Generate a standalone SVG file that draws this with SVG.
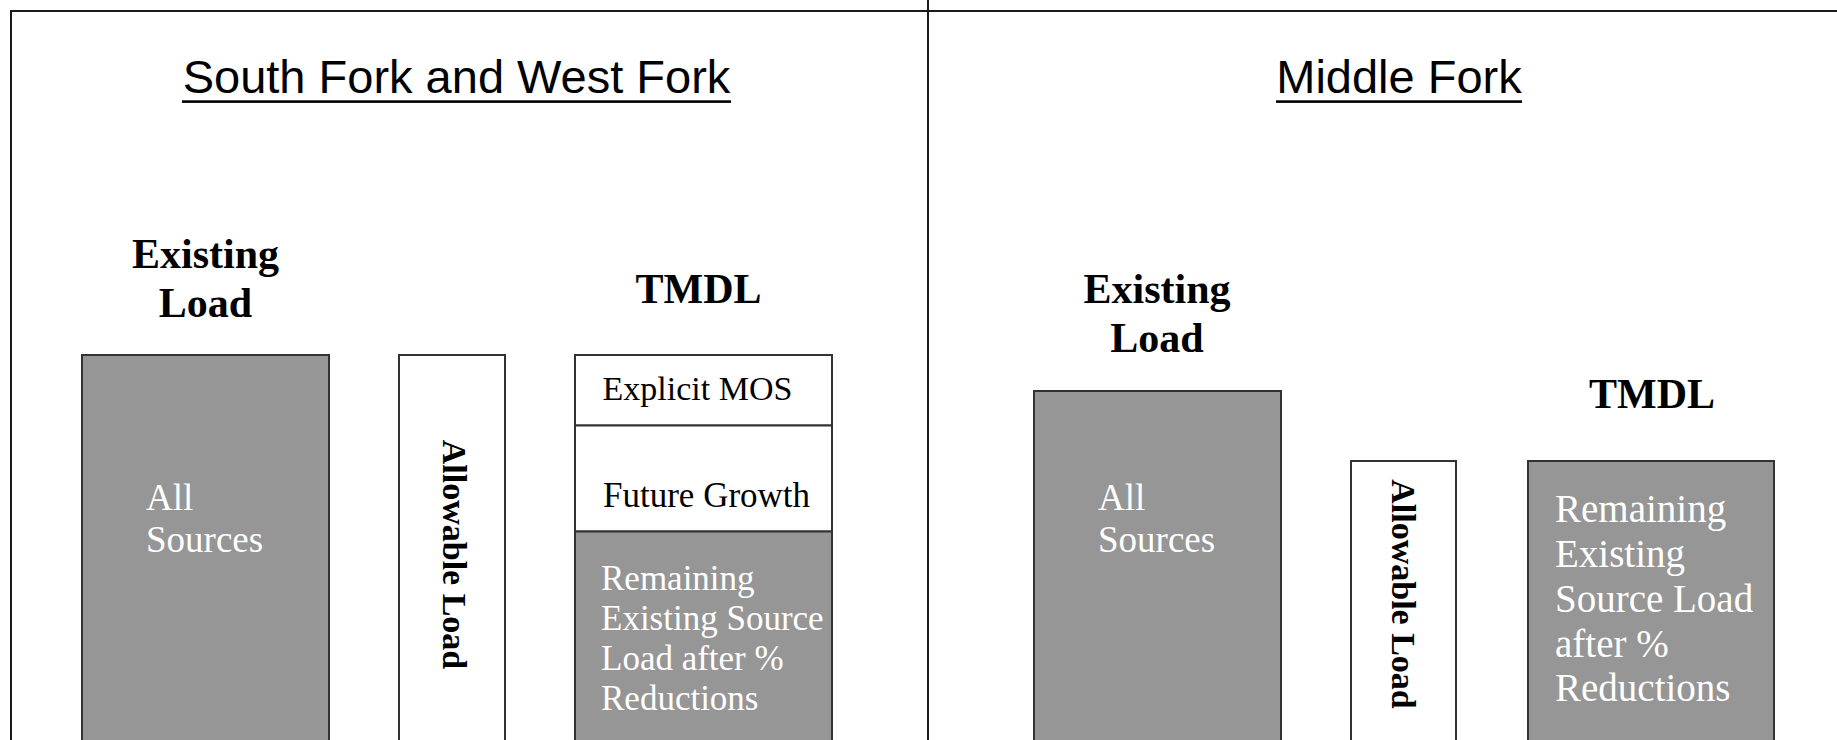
<svg xmlns="http://www.w3.org/2000/svg" width="1837" height="740" viewBox="0 0 1837 740">
<style>
.title{font-family:"Liberation Sans",Arial,sans-serif;font-size:47px;fill:#000;text-anchor:middle}
.head{font-family:"Liberation Serif","Times New Roman",serif;font-size:42px;font-weight:bold;fill:#000;text-anchor:middle}
.box{stroke:#333;stroke-width:2}
.gray{fill:#969696}
.white{fill:#fff}
.wt{font-family:"Liberation Serif","Times New Roman",serif;fill:#fff}
.bt{font-family:"Liberation Serif","Times New Roman",serif;fill:#000}
.rot{font-family:"Liberation Serif","Times New Roman",serif;font-weight:bold;font-size:34px;fill:#000;text-anchor:middle}
.frame{stroke:#1a1a1a;stroke-width:2;fill:none}
</style>
<rect x="0" y="0" width="1837" height="740" fill="#fff"/>
<g id="frame">
<path class="frame" d="M11 760 V11 H1837"/>
<path class="frame" d="M928 0 V760"/>
</g>
<g id="connectors"></g>
<g id="title-left">
<text class="title" x="456.5" y="93">South Fork and West Fork</text>
<rect x="182" y="100.3" width="549" height="2.6" fill="#000"/>
</g>
<g id="title-right">
<text class="title" x="1399" y="93">Middle Fork</text>
<rect x="1276" y="100.3" width="246" height="2.6" fill="#000"/>
</g>
<g id="left-existing-label">
<text class="head" x="205.5" y="268">Existing</text>
<text class="head" x="205.5" y="317">Load</text>
</g>
<g id="left-tmdl-label">
<text class="head" x="698.5" y="303">TMDL</text>
</g>
<g id="left-all-sources">
<rect class="box gray" x="82" y="355" width="247" height="420"/>
<text class="wt" font-size="37" x="146" y="510">All</text>
<text class="wt" font-size="37" x="146" y="552">Sources</text>
</g>
<g id="left-allowable">
<rect class="box white" x="399" y="355" width="106" height="420"/>
<text class="rot" transform="translate(443 554.5) rotate(90)">Allowable Load</text>
</g>
<g id="left-tmdl-stack">
<rect class="box white" x="575" y="355" width="257" height="70.5"/>
<text class="bt" font-size="34" x="602.5" y="400">Explicit MOS</text>
<rect class="box white" x="575" y="425.5" width="257" height="106"/>
<text class="bt" font-size="35" x="603" y="506.5">Future Growth</text>
<rect class="box gray" x="575" y="531.5" width="257" height="240"/>
<text class="wt" font-size="35" x="601" y="590">Remaining</text>
<text class="wt" font-size="35" x="601" y="630">Existing Source</text>
<text class="wt" font-size="35" x="601" y="670">Load after %</text>
<text class="wt" font-size="35" x="601" y="710">Reductions</text>
</g>
<g id="right-existing-label">
<text class="head" x="1157" y="303">Existing</text>
<text class="head" x="1157" y="352">Load</text>
</g>
<g id="right-tmdl-label">
<text class="head" x="1652" y="408">TMDL</text>
</g>
<g id="right-all-sources">
<rect class="box gray" x="1034" y="391" width="247" height="400"/>
<text class="wt" font-size="37" x="1098" y="510">All</text>
<text class="wt" font-size="37" x="1098" y="552">Sources</text>
</g>
<g id="right-allowable">
<rect class="box white" x="1351" y="461" width="105" height="330"/>
<text class="rot" transform="translate(1392 594) rotate(90)">Allowable Load</text>
</g>
<g id="right-tmdl">
<rect class="box gray" x="1528" y="461" width="246" height="330"/>
<text class="wt" font-size="39" x="1555" y="522">Remaining</text>
<text class="wt" font-size="39" x="1555" y="567">Existing</text>
<text class="wt" font-size="39" x="1555" y="612">Source Load</text>
<text class="wt" font-size="39" x="1555" y="657">after %</text>
<text class="wt" font-size="39" x="1555" y="701">Reductions</text>
</g>
</svg>
